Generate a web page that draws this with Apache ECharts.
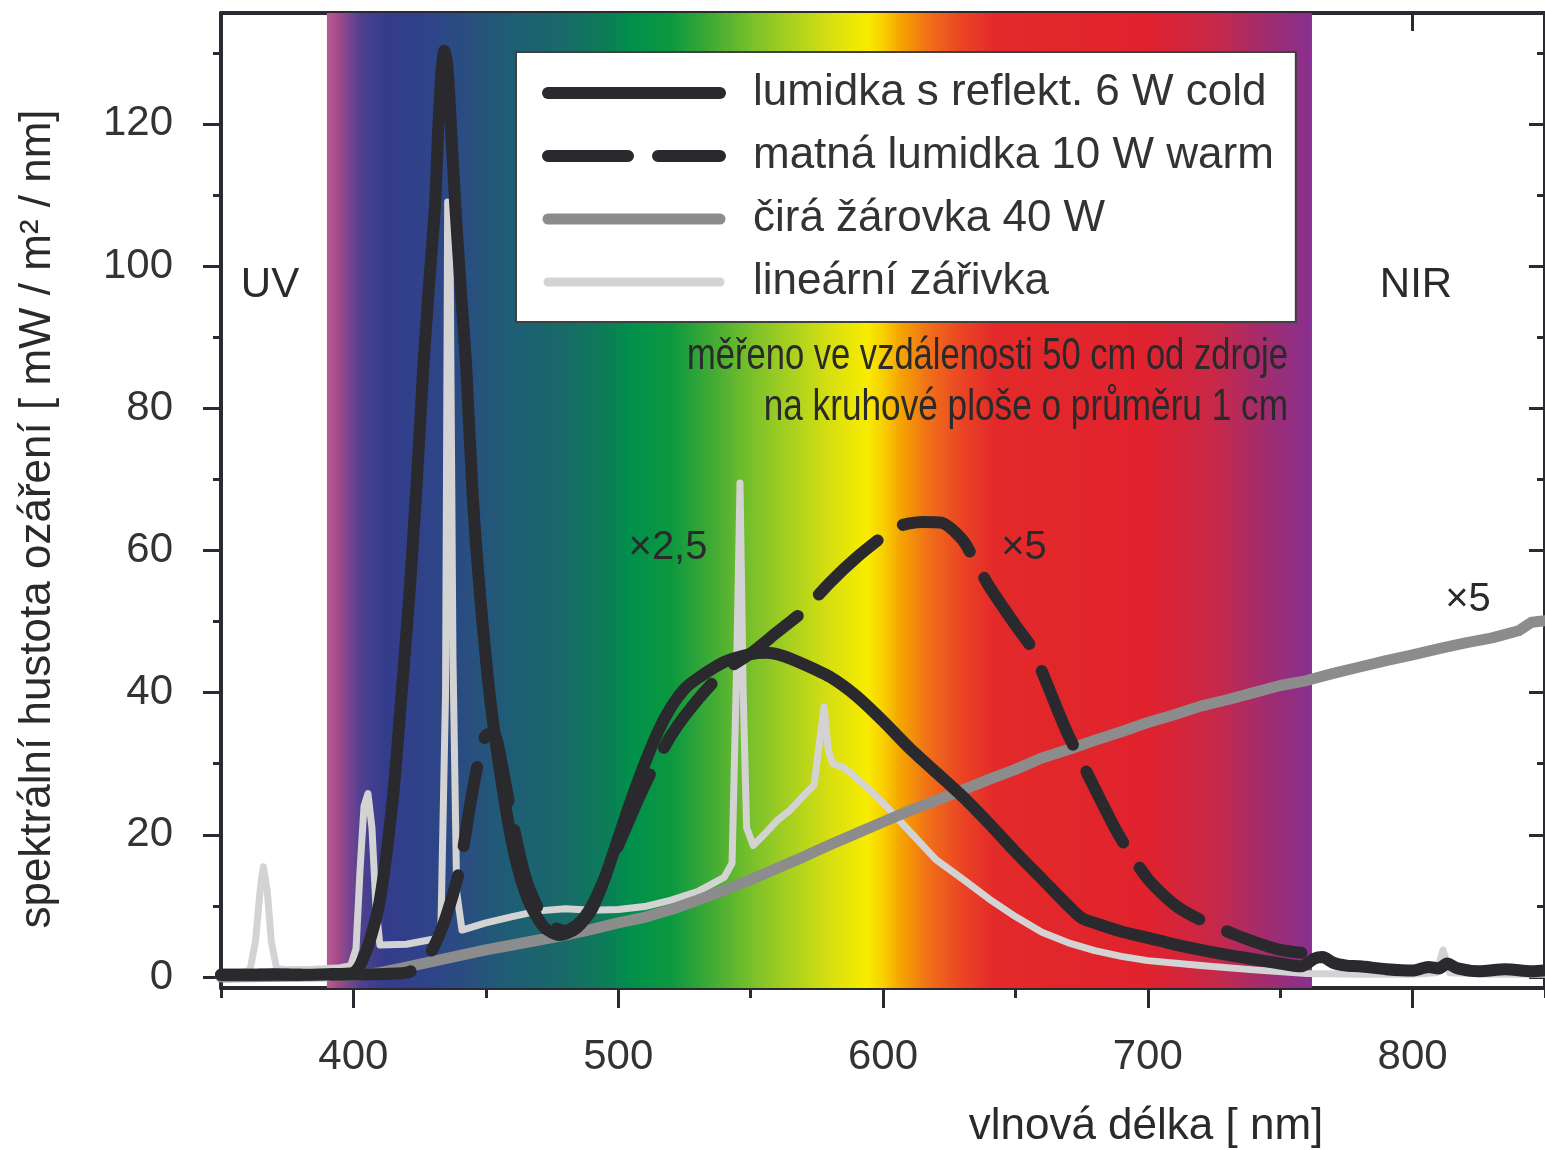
<!DOCTYPE html>
<html>
<head>
<meta charset="utf-8">
<script src="https://cdn.jsdelivr.net/npm/echarts@6/dist/echarts.min.js"></script>
<style>
  html, body { margin: 0; padding: 0; background: #fff; }
  #chart { width: 1545px; height: 1150px; }
</style>
</head>
<body>
<div id="chart"></div>
<script>
// tick values
const majorX = [400, 500, 600, 700, 800];
const minorX = [350, 450, 550, 650, 750, 850];
const majorY = [0, 20, 40, 60, 80, 100, 120];
const minorY = [10, 30, 50, 70, 90, 110, 130];

// lumidka s reflekt. 6 W cold
const coldNm = [350,360,370,380,390,400,405,410,415,418,421,424,426.4,428.5,430.9,432,433.2,434.3,435.4,436.5,438.4,440.5,442.6,445,448,452,457,461,466,472,478,484,490,495,500,505,510,515,520,525,530,540,550,556,562,570,580,590,600,610,620,630,640,650,660,670,675,680,690,700,710,720,730,740,750,758,763,766,770,775,780,790,800,806,810,813,817,825,835,845,850];
const coldVal = [0.3,0.3,0.4,0.3,0.4,0.6,3.8,10.8,25.5,39,53,70,85.8,97,109,119,127,130.3,128.5,122,109,97,85.8,68,53,38,25,17,10.8,7,5.9,6.8,9.5,14,19.5,25,30,34.5,38,40.5,42,44.3,45.4,45.6,45.2,44,42.2,39.5,36,32.2,28.8,25.4,21.6,17.6,13.8,10,8.3,7.6,6.4,5.5,4.6,3.8,3.1,2.5,1.9,1.5,2.6,2.8,2,1.6,1.5,1.1,0.9,1.4,1.2,1.9,1.2,0.8,1.1,0.8,0.9];

// matná lumidka 10 W warm
const warmNm = [350,380,410,420,425,430,435,440,444,447,450,453,456,460,465,470,475,480,485,490,495,500,510,520,530,540,550,560,570,580,590,600,605,610,615,622,630,634,640,650,656,660,666,670,678,689,700,710,719,734,749,758];
const warmVal = [0.3,0.3,0.4,0.6,1.5,4,8.5,15,24,30,34,34.2,30,22,14,9.5,7.2,6.5,7.5,10,14,18.5,27,34,39,43,45.5,48.5,51.5,55.5,59,62,63.3,63.8,64,63.9,61.5,59,55,49.5,46.4,43,37.5,34,28,20,13.8,10.2,8.2,5.8,3.9,3.4];

// čirá žárovka 40 W
const incNm = [350,400,410,420,430,440,450,460,470,480,490,500,510,520,530,540,550,560,570,580,590,600,610,620,630,640,650,660,670,680,690,700,710,720,730,740,750,760,770,780,790,800,810,820,830,840,845,850];
const incVal = [0,0.2,0.6,1.4,2.2,3,3.8,4.5,5.2,5.9,6.7,7.6,8.4,9.5,10.8,12.2,13.7,15.3,16.9,18.6,20.2,21.8,23.4,24.8,26.3,27.8,29.2,30.8,32,33.3,34.5,35.8,36.9,38.1,39,40,41,41.7,42.7,43.6,44.5,45.3,46.2,47,47.7,48.7,49.9,50.1];

// lineární zářivka
const fluorNm = [350,358,361,363,365,366,367.5,369,371,375,385,395,399,401,402.5,404,405.5,407,408.5,410,420,430,433,434.8,435.6,436.4,437.6,439,441,450,460,470,480,490,500,510,520,530,540,543,544.8,546,547.2,548.5,551,555,560,565,570,574,576,577.8,579.3,581,585,590,600,610,620,630,640,650,660,670,680,690,700,720,740,760,780,800,809,811.5,814,830,850];
const fluorVal = [0.5,0.6,1,5,13,15.5,12,5,1.2,1,1.1,1.3,1.6,4,15,24,25.8,21,10,4.5,4.6,5.3,6,40,109,108,45,12,6.6,7.6,8.5,9.3,9.6,9.4,9.5,9.9,10.8,12,14,16,45,69.5,40,21,18.5,20,22,23.5,25.5,27,33,38,32,30,29.5,28,24.5,20.5,16.5,13.8,11,8.5,6.3,4.8,3.7,2.9,2.3,1.6,1,0.5,0.4,0.4,0.6,3.8,0.6,0.4,0.4];

// visible spectrum band
const bandRange = [390, 762];
const bandStops = [
  [390, '#bc5a98'], [394, '#a44a88'], [398, '#7c4690'], [403, '#4e4090'],
  [412, '#343c8c'], [430, '#2e4488'], [445, '#28507e'], [460, '#1e5e74'],
  [480, '#186a68'], [495, '#0c7c58'], [505, '#00904a'], [520, '#0c9840'],
  [535, '#40aa35'], [550, '#78c02a'], [565, '#a8d020'], [580, '#d8df10'],
  [594, '#f8ec00'], [600, '#f8d000'], [606, '#f5a800'], [617, '#f07018'],
  [630, '#ea4424'], [642, '#e32a2a'], [700, '#e0222e'], [725, '#c82848'],
  [745, '#a02c70'], [762, '#883090']
];

const names = ['lumidka s reflekt. 6 W cold', 'matná lumidka 10 W warm', 'čirá žárovka 40 W', 'lineární zářivka'];

const zip = (a, b) => a.map((v, i) => [v, b[i]]);

const FONT = '"Liberation Sans", Arial, sans-serif';
const axisColor = '#2b2a30';
const textColor = '#333';
const xMin = 350, xMax = 850, yMin = -1.55, yMax = 135.6;

const chart = echarts.init(document.getElementById('chart'));

const gradient = new echarts.graphic.LinearGradient(0, 0, 1, 0,
  bandStops.map(s => ({
    offset: (s[0] - bandRange[0]) / (bandRange[1] - bandRange[0]),
    color: s[1]
  })));

const gridBox = { left: 221, top: 13, right: -3, bottom: 162 };

function xAx(grid, pos, ticks, len, inside, showLine, label) {
  return {
    type: 'value', gridIndex: grid, position: pos, min: xMin, max: xMax,
    axisLine: { show: showLine, onZero: false, lineStyle: { color: axisColor, width: 4 } },
    axisTick: { show: true, customValues: ticks, length: len, inside: inside, lineStyle: { color: axisColor, width: 3 } },
    axisLabel: label ? { customValues: ticks, margin: 48, fontSize: 42, color: textColor, fontFamily: FONT } : { show: false },
    splitLine: { show: false }
  };
}
function yAx(grid, pos, ticks, len, inside, showLine, label) {
  return {
    type: 'value', gridIndex: grid, position: pos, min: yMin, max: yMax,
    axisLine: { show: showLine, onZero: false, lineStyle: { color: axisColor, width: 4 } },
    axisTick: { show: true, customValues: ticks, length: len, inside: inside, lineStyle: { color: axisColor, width: 3 } },
    axisLabel: label ? { customValues: ticks, margin: 48, fontSize: 42, color: textColor, fontFamily: FONT } : { show: false },
    splitLine: { show: false }
  };
}

const txt = (x, y, text, size, extra) => Object.assign({
  type: 'text', x: x, y: y, z: 100,
  style: { text: text, font: size + 'px ' + FONT, fill: '#2a2a2a', align: 'center', verticalAlign: 'middle' }
}, extra || {});

const option = {
  animation: false,
  grid: [Object.assign({}, gridBox), Object.assign({}, gridBox)],
  xAxis: [
    xAx(0, 'bottom', majorX, 20, false, true, true),
    xAx(0, 'top', majorX, 18, true, true, false),
    xAx(1, 'bottom', minorX, 10, false, false, false),
    xAx(1, 'top', minorX, 8, true, false, false)
  ],
  yAxis: [
    yAx(0, 'left', majorY, 18, false, true, true),
    yAx(0, 'right', majorY, 16, true, true, false),
    yAx(1, 'left', minorY, 8, false, false, false),
    yAx(1, 'right', minorY, 8, true, false, false)
  ],
  legend: {
    data: names.map((n, i) => ({ name: n, lineStyle: { width: [12, 12, 11, 9][i] } })),
    orient: 'vertical',
    left: 516, top: 52,
    padding: [19, 22, 18, 26],
    itemGap: 19,
    itemWidth: 172,
    itemHeight: 14,
    selectedMode: false,
    backgroundColor: '#fff',
    borderColor: '#404040',
    borderWidth: 2,
    borderRadius: 0,
    itemStyle: { opacity: 0, borderWidth: 0 },
    textStyle: { fontSize: 44, lineHeight: 44, color: textColor, fontFamily: FONT, padding: [0, 0, 0, 28] }
  },
  series: [
    {
      name: 'spectrum', type: 'line', z: 1, silent: true, symbol: 'none',
      data: [[bandRange[0], 0]], lineStyle: { opacity: 0 },
      markArea: {
        silent: true,
        itemStyle: { color: gradient },
        data: [[{ xAxis: bandRange[0] }, { xAxis: bandRange[1] }]]
      }
    },
    {
      name: names[3], type: 'line', z: 2, symbol: 'none', data: zip(fluorNm, fluorVal),
      lineStyle: { color: '#d3d3d3', width: 7, cap: 'round', join: 'round' },
      itemStyle: { color: '#d3d3d3' }
    },
    {
      name: names[2], type: 'line', z: 3, symbol: 'none', data: zip(incNm, incVal),
      lineStyle: { color: '#8c8c8c', width: 11, cap: 'round', join: 'round' },
      itemStyle: { color: '#8c8c8c' }
    },
    {
      name: names[0], type: 'line', z: 4, symbol: 'none', smooth: 0.25,
      clip: false, data: zip(coldNm, coldVal),
      lineStyle: { color: '#2a2a2e', width: 12, cap: 'round', join: 'round' },
      itemStyle: { color: '#2a2a2e' }
    },
    {
      name: names[1], type: 'line', z: 5, symbol: 'none', smooth: 0.25,
      clip: false, data: zip(warmNm, warmVal),
      lineStyle: { color: '#2a2a2e', width: 12, type: [80, 30], cap: 'round', join: 'round' },
      itemStyle: { color: '#2a2a2e' }
    }
  ],
  graphic: [
    txt(270, 285, 'UV', 42),
    txt(1416, 285, 'NIR', 42),
    txt(1288, 357, 'měřeno ve vzdálenosti 50 cm od zdroje', 44, { scaleX: 0.785 }),
    txt(1288, 408, 'na kruhové ploše o průměru 1 cm', 44, { scaleX: 0.8 }),
    txt(668, 548, '×2,5', 40),
    txt(1024, 548, '×5', 40),
    txt(1468, 600, '×5', 40),
    txt(38, 519, 'spektrální hustota ozáření [ mW / m² / nm]', 44, { rotation: Math.PI / 2 }),
    txt(1146, 1127, 'vlnová délka [ nm]', 44)
  ]
};
// right-align the two note lines
option.graphic[2].style.align = 'right';
option.graphic[3].style.align = 'right';

chart.setOption(option);
</script>
</body>
</html>
